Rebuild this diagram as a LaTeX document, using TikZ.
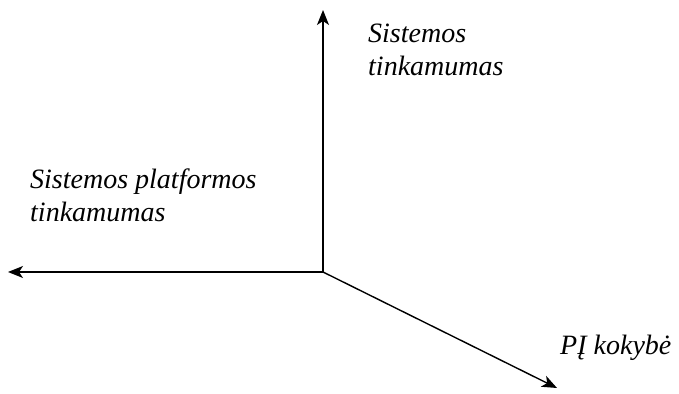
\documentclass[tikz,border=0pt]{standalone}
\usepackage{fontspec}
\setmainfont{Liberation Serif}
\usetikzlibrary{arrows.meta}
\begin{document}
\begin{tikzpicture}[x=1pt,y=1pt,
  axis/.style={line width=1.4pt,-{Stealth[length=15pt,width=12pt,inset=4pt]}},
  lbl/.style={font=\itshape\fontsize{28}{33}\selectfont,align=left,inner sep=0pt,anchor=base west}]
\useasboundingbox (0,0) rectangle (679,393);
\coordinate (O) at (323,121);
\coordinate (U) at (323,383);
\coordinate (L) at (8,121);
\coordinate (D) at (557,5);
\draw[axis] (O) -- (U);
\draw[axis] (O) -- (L);
\draw[axis] (O) -- (D);
\node[lbl] (t1) at (368,317) {Sistemos\\tinkamumas};
\node[lbl] (t2) at (30,171) {Sistemos platformos\\tinkamumas};
\node[lbl] (t3) at (560,38) {PĮ kokybė};
\end{tikzpicture}
\end{document}
